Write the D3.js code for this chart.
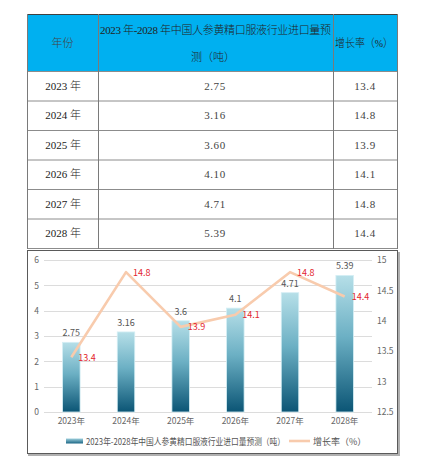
<!DOCTYPE html>
<html>
<head>
<meta charset="utf-8">
<script src="https://cdn.jsdelivr.net/npm/d3@7"></script>
<style>
  html, body { margin: 0; padding: 0; background: #fff; }
  svg { display: block; }
  .tbl text { font-family: "Liberation Serif", "Noto Sans CJK SC", serif; fill: #222; font-weight: 300; }
  .cht text { font-family: "Noto Sans CJK SC", "DejaVu Sans", sans-serif; }
</style>
</head>
<body>
<svg id="canvas" width="423" height="465"></svg>
<script>
// chart data
const years = ["2023", "2024", "2025", "2026", "2027", "2028"]
const tons = [2.75, 3.16, 3.60, 4.10, 4.71, 5.39]
const growth = [13.4, 14.8, 13.9, 14.1, 14.8, 14.4]
const leftTicks = [0, 1, 2, 3, 4, 5, 6]
const rightTicks = [12.5, 13, 13.5, 14, 14.5, 15]
const seriesName = "2023年-2028年中国人参黄精口服液行业进口量预测（吨）"
const lineName = "增长率（%）"

const svg = d3.select('#canvas')

// ---------- table ----------
const tbl = svg.append('g').attr('class', 'tbl')
const colX = [27, 98, 333, 397]
const headTop = 14, headBot = 71
const rowY = d3.scaleLinear().domain([0, years.length]).range([headBot, 248])

tbl.append('rect')
    .attr('x', colX[0]).attr('y', headTop)
    .attr('width', colX[3] - colX[0]).attr('height', headBot - headTop)
    .attr('fill', '#00b0f0')

// row lines
d3.range(years.length + 1).forEach(i => {
    tbl.append('line')
        .attr('x1', colX[0]).attr('x2', colX[3])
        .attr('y1', rowY(i) + 0.5).attr('y2', rowY(i) + 0.5)
        .attr('stroke', '#8c8c8c').attr('stroke-width', 1)
})
tbl.append('line')
    .attr('x1', colX[0]).attr('x2', colX[3])
    .attr('y1', headTop + 0.5).attr('y2', headTop + 0.5)
    .attr('stroke', '#404040').attr('stroke-width', 1.2)
colX.forEach(x => {
    tbl.append('line')
        .attr('x1', x + 0.5).attr('x2', x + 0.5)
        .attr('y1', headTop).attr('y2', rowY(years.length) + 1)
        .attr('stroke', '#7a7a7a').attr('stroke-width', 1)
})

// header text
tbl.append('text').attr('x', (colX[0] + colX[1]) / 2).attr('y', 47)
    .attr('text-anchor', 'middle').attr('font-size', 11).style('fill', '#444')
    .text('年份')
tbl.append('text').attr('x', colX[1] + 2).attr('y', 34)
    .attr('font-size', 11).attr('textLength', 231).attr('lengthAdjust', 'spacing')
    .text('2023 年-2028 年中国人参黄精口服液行业进口量预')
tbl.append('text').attr('x', 213).attr('y', 61)
    .attr('text-anchor', 'middle').attr('font-size', 11)
    .text('测（吨）')
tbl.append('text').attr('x', colX[2] + 2).attr('y', 47)
    .attr('font-size', 11).attr('textLength', 58).attr('lengthAdjust', 'spacingAndGlyphs')
    .text('增长率（%）')

// body rows
years.forEach((y, i) => {
    const cy = (rowY(i) + rowY(i + 1)) / 2 + 4
    tbl.append('text').attr('x', 63).attr('y', cy).attr('text-anchor', 'middle')
        .attr('font-size', 11).text(y + ' 年')
    tbl.append('text').attr('x', 215).attr('y', cy).attr('text-anchor', 'middle')
        .attr('font-size', 11).attr('letter-spacing', 0.6).style('fill', '#444').text(tons[i].toFixed(2))
    tbl.append('text').attr('x', 365).attr('y', cy).attr('text-anchor', 'middle')
        .attr('font-size', 11).attr('letter-spacing', 0.6).style('fill', '#444').text(growth[i].toFixed(1))
})

// ---------- chart ----------
const cht = svg.append('g').attr('class', 'cht')

// frame with soft shadow
cht.append('line').attr('x1', 28).attr('x2', 399).attr('y1', 455).attr('y2', 455)
    .attr('stroke', '#b0b0b0').attr('stroke-width', 2)
cht.append('line').attr('x1', 399).attr('x2', 399).attr('y1', 252).attr('y2', 456)
    .attr('stroke', '#b0b0b0').attr('stroke-width', 2)
cht.append('rect').attr('x', 27.5).attr('y', 250.5).attr('width', 370).attr('height', 203)
    .attr('fill', '#fff').attr('stroke', '#5a5a5a').attr('stroke-width', 1)

const x = d3.scaleBand().domain(years).range([44, 372]).paddingInner(0.68).paddingOuter(0.34)
const yL = d3.scaleLinear().domain([0, 6]).range([412, 260])
const yR = d3.scaleLinear().domain([12.5, 15]).range([412, 260])

const defs = svg.append('defs')
const grad = defs.append('linearGradient').attr('id', 'barGrad')
    .attr('x1', 0).attr('y1', 0).attr('x2', 0).attr('y2', 1)
grad.append('stop').attr('offset', '0%').attr('stop-color', '#b6dfe8')
grad.append('stop').attr('offset', '45%').attr('stop-color', '#6cb0c4')
grad.append('stop').attr('offset', '100%').attr('stop-color', '#0b5575')

// gridlines
cht.append('g').selectAll('line').data(leftTicks).enter().append('line')
    .attr('x1', 44).attr('x2', 372)
    .attr('y1', d => Math.round(yL(d)) + 0.5).attr('y2', d => Math.round(yL(d)) + 0.5)
    .attr('stroke', '#dcdcdc').attr('stroke-width', 1)

// left axis
const axL = cht.append('g').attr('transform', 'translate(44,0)')
    .call(d3.axisLeft(yL).tickValues(leftTicks).tickSize(0).tickPadding(5).tickFormat(d3.format('d')))
axL.select('.domain').remove()
axL.selectAll('text').attr('font-size', 8.5).attr('fill', '#666')
    .style('font-family', '"Noto Sans CJK SC", sans-serif')

// right axis
const axR = cht.append('g').attr('transform', 'translate(372,0)')
    .call(d3.axisRight(yR).tickValues(rightTicks).tickSize(0).tickPadding(5).tickFormat(d3.format('~g')))
axR.select('.domain').remove()
axR.selectAll('text').attr('font-size', 8.5).attr('fill', '#666')
    .style('font-family', '"Noto Sans CJK SC", sans-serif')

// x axis
const axX = cht.append('g').attr('transform', 'translate(0,412)')
    .call(d3.axisBottom(x).tickSize(0).tickPadding(6).tickFormat(d => d + '年'))
axX.select('.domain').remove()
axX.selectAll('text').attr('font-size', 8.5).attr('fill', '#666')
    .style('font-family', '"Noto Sans CJK SC", sans-serif')

// bars
cht.append('g').selectAll('rect').data(tons).enter().append('rect')
    .attr('x', (d, i) => x(years[i]))
    .attr('y', d => yL(d))
    .attr('width', x.bandwidth())
    .attr('height', d => yL(0) - yL(d))
    .attr('fill', 'url(#barGrad)')
    .attr('stroke', '#d4eef4').attr('stroke-width', 0.8)

cht.append('g').selectAll('text').data(tons).enter().append('text')
    .attr('x', (d, i) => x(years[i]) + x.bandwidth() / 2)
    .attr('y', d => yL(d) - 6)
    .attr('text-anchor', 'middle')
    .attr('font-size', 9).attr('fill', '#555')
    .text(d => String(d))

// growth line
const line = d3.line()
    .x((d, i) => x(years[i]) + x.bandwidth() / 2)
    .y(d => yR(d))
cht.append('path').datum(growth)
    .attr('d', line)
    .attr('fill', 'none')
    .attr('stroke', '#f8cbad').attr('stroke-width', 2.6)
    .attr('stroke-linejoin', 'round')

cht.append('g').selectAll('text').data(growth).enter().append('text')
    .attr('x', (d, i) => x(years[i]) + x.bandwidth() / 2 + 7)
    .attr('y', d => yR(d) + 3.5)
    .attr('font-size', 9).attr('fill', '#e3262e')
    .text(d => d.toFixed(1))

// legend
const lg = cht.append('g')
const lgGrad = defs.append('linearGradient').attr('id', 'lgGrad')
    .attr('x1', 0).attr('y1', 0).attr('x2', 0).attr('y2', 1)
lgGrad.append('stop').attr('offset', '0%').attr('stop-color', '#9fd0dd')
lgGrad.append('stop').attr('offset', '100%').attr('stop-color', '#1a6585')
lg.append('rect').attr('x', 66).attr('y', 438.5).attr('width', 17).attr('height', 5)
    .attr('fill', 'url(#lgGrad)')
lg.append('text').attr('x', 86).attr('y', 444.5).attr('font-size', 9).attr('fill', '#555')
    .attr('textLength', 199).attr('lengthAdjust', 'spacingAndGlyphs')
    .text(seriesName)
lg.append('line').attr('x1', 289).attr('x2', 310).attr('y1', 441).attr('y2', 441)
    .attr('stroke', '#f8cbad').attr('stroke-width', 2.6)
lg.append('text').attr('x', 313).attr('y', 444.5).attr('font-size', 9).attr('fill', '#555')
    .text(lineName)
</script>
</body>
</html>
